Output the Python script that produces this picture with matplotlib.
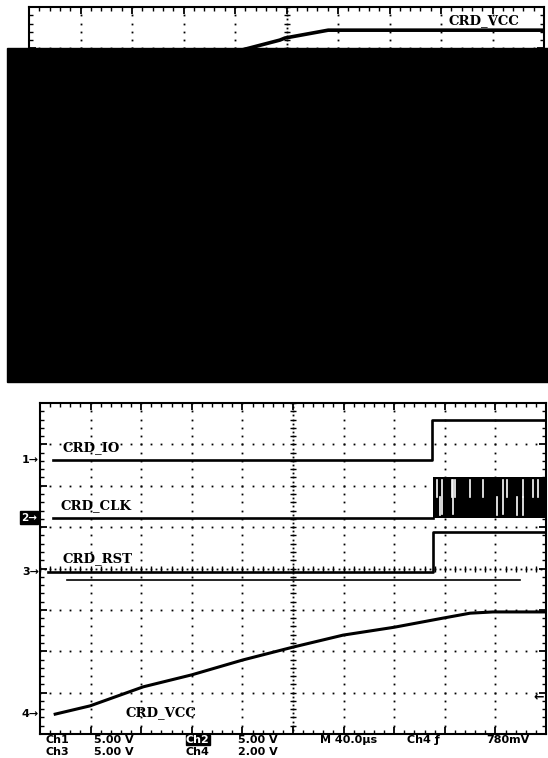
import matplotlib
matplotlib.use('Agg')
import matplotlib.pyplot as plt
import numpy as np
from matplotlib.patches import Rectangle

W, H = 548, 758

# lower scope traces, in divisions (x 0..10, y 0..8)
io_x = [0.26, 7.75, 7.75, 10.0]
io_y = [6.62, 6.62, 7.58, 7.58]
clk_x = [0.26, 7.77]
clk_y = [5.23, 5.23]
clk_lo, clk_hi = 5.23, 6.21
clk_start, clk_end = 7.77, 10.0
clk_gap_full = [7.94, 8.16, 9.15]
clk_gap_upper = [7.84, 8.14, 8.20, 8.50, 8.76, 9.23, 9.55, 9.74, 9.84]
clk_gap_lower = [7.91, 9.03, 9.43, 9.55]
rst_x = [0.16, 7.77, 7.77, 10.0]
rst_y = [3.91, 3.91, 4.88, 4.88]
ref_x = [0.53, 9.49]
ref_y = [3.72, 3.72]
vcc_x = [0.30, 0.99, 2.04, 3.00, 4.01, 5.00, 5.99, 7.00, 7.96, 8.50, 8.95, 10.0]
vcc_y = [0.48, 0.68, 1.14, 1.43, 1.79, 2.10, 2.39, 2.58, 2.80, 2.92, 2.95, 2.95]

labels = ['CRD_IO', 'CRD_CLK', 'CRD_RST', 'CRD_VCC']
label_x = [0.45, 0.41, 0.45, 1.68]
label_y = [6.93, 5.51, 4.25, 0.51]
marker_y = [6.62, 5.23, 3.91, 0.48]
trig_y = 0.89

# upper (cropped) scope trace
top_x = [4.10, 4.87, 4.97, 5.81, 10.0]
top_y = [6.95, 7.20, 7.25, 7.44, 7.44]

row1 = ['Ch1', '5.00 V', 'Ch2', '5.00 V', 'M 40.0\u00b5s', 'Ch4 \u0192', '780mV']
row1_px = [45, 94, 186, 238, 320, 407, 486]
row2 = ['Ch3', '5.00 V', 'Ch4', '2.00 V']
row2_px = [45, 94, 186, 238]


def fbox(x0, y0, x1, y1):
    return [x0 / W, 1 - y1 / H, (x1 - x0) / W, (y1 - y0) / H]


def graticule(ax):
    ax.set_xlim(0, 10)
    ax.set_ylim(0, 8)
    ax.set_xticks(range(11))
    ax.set_yticks(range(9))
    ax.set_xticks(np.arange(0, 10.01, 0.2), minor=True)
    ax.set_yticks(np.arange(0, 8.01, 0.2), minor=True)
    ax.tick_params(which='both', direction='in', top=True, right=True,
                   labelbottom=False, labelleft=False, color='black')
    ax.tick_params(which='major', length=5, width=1.3)
    ax.tick_params(which='minor', length=3, width=1)
    for s in ax.spines.values():
        s.set_linewidth(1.5)
    gx = np.arange(0, 10.01, 0.2)
    gy = np.arange(0, 8.01, 0.2)
    dot = dict(ls='none', marker='s', ms=1.3, mew=0, color='black')
    for k in range(1, 10):
        if k != 5:
            ax.plot(np.full_like(gy, k), gy, **dot)
    for k in range(1, 8):
        if k != 4:
            ax.plot(gx, np.full_like(gx, k), **dot)
    cy = np.arange(0, 8.01, 0.1)
    cx = np.arange(0, 10.01, 0.1)
    ax.plot(np.full_like(cy, 5), cy, **dot)
    ax.plot(np.full_like(gy, 5), gy, ls='none', marker='_', ms=5, mew=1, color='black')
    ax.plot(cx, np.full_like(cx, 4), **dot)
    ax.plot(gx, np.full_like(gx, 4), ls='none', marker='|', ms=5, mew=1, color='black')


fig = plt.figure(figsize=(W / 100, H / 100), dpi=100)
fig.patch.set_facecolor('white')

# cropped scope at the top
ax0 = fig.add_axes(fbox(29, 7, 544, 338))
graticule(ax0)
ax0.plot(top_x, top_y, color='black', lw=2.6)
ax0.text(8.14, 7.68, 'CRD_VCC', family='DejaVu Serif', weight='bold',
         fontsize=9.5, va='center', ha='left')

# black redaction block
fig.add_artist(Rectangle((7 / W, 1 - 382 / H), (W - 7) / W, (382 - 48) / H,
                         transform=fig.transFigure, color='black', zorder=10))

# main scope
ax = fig.add_axes(fbox(40, 403, 546, 734))
graticule(ax)
lw = 1.9
ax.plot(io_x, io_y, color='black', lw=lw)
ax.plot(clk_x, clk_y, color='black', lw=lw)
ax.fill_between([clk_start, clk_end], clk_lo, clk_hi, color='black', lw=0)
mid = (clk_lo + clk_hi) / 2
for g in clk_gap_full:
    ax.plot([g, g], [clk_lo + 0.08, clk_hi - 0.08], color='white', lw=1.2)
for g in clk_gap_upper:
    ax.plot([g, g], [mid, clk_hi - 0.06], color='white', lw=1.2)
for g in clk_gap_lower:
    ax.plot([g, g], [clk_lo + 0.06, mid], color='white', lw=1.2)
ax.plot(rst_x, rst_y, color='black', lw=lw)
ax.plot(ref_x, ref_y, color='black', lw=1.2)
ax.plot(vcc_x, vcc_y, color='black', lw=2.2)

for lab, lx, ly in zip(labels, label_x, label_y):
    ax.text(lx, ly, lab, family='DejaVu Serif', weight='bold', fontsize=9.5,
            va='center', ha='left')

ytr = ax.get_yaxis_transform()
for i, my in enumerate(marker_y):
    if i == 1:
        ax.text(-0.006, my, '2\u2192', transform=ytr, ha='right', va='center',
                fontsize=7.5, weight='bold', color='white', clip_on=False,
                bbox=dict(boxstyle='square,pad=0.12', fc='black', ec='black'))
    else:
        ax.text(-0.002, my, '%d\u2192' % (i + 1), transform=ytr, ha='right',
                va='center', fontsize=8, weight='bold', clip_on=False)
ax.text(0.995, trig_y, '\u2190', transform=ytr, ha='right', va='center',
        fontsize=9, weight='bold')

# readout rows
for t, px in zip(row1, row1_px):
    if t == 'Ch2':
        fig.text(px / W, 1 - 740 / H, t, ha='left', va='center', fontsize=8,
                 weight='bold', color='white',
                 bbox=dict(boxstyle='square,pad=0.02', fc='black', ec='black'))
    else:
        fig.text(px / W, 1 - 740 / H, t, ha='left', va='center', fontsize=8,
                 weight='bold')
for t, px in zip(row2, row2_px):
    fig.text(px / W, 1 - 752 / H, t, ha='left', va='center', fontsize=8,
             weight='bold')

fig.savefig('out.png', dpi=100, facecolor='white')
